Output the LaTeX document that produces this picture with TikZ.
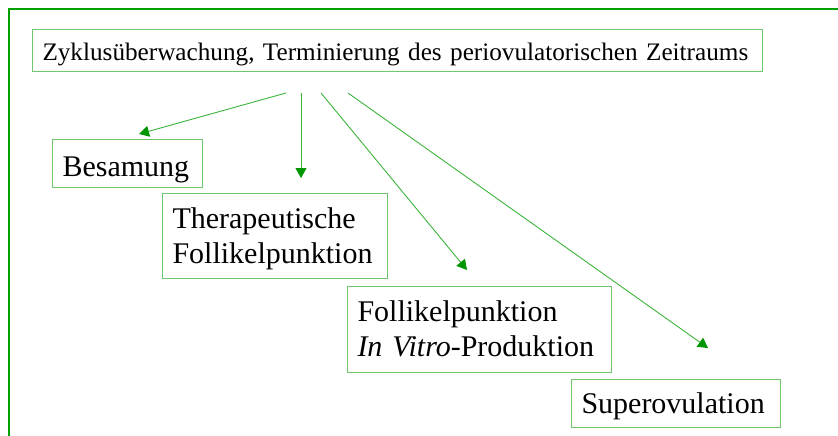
\documentclass[tikz,border=0pt]{standalone}
\usepackage{fontspec}
\setmainfont{Liberation Serif}
\usetikzlibrary{arrows.meta}
\definecolor{framegreen}{RGB}{0,160,0}
\definecolor{boxgreen}{RGB}{110,200,110}
\definecolor{arrowgreen}{RGB}{60,180,60}
\definecolor{headgreen}{RGB}{0,150,0}
\begin{document}
\begin{tikzpicture}[x=1pt,y=-1pt,
  box/.style={draw=boxgreen, line width=1pt, anchor=north west, text=black,
    inner xsep=10pt, inner ysep=0pt, align=left,
    font=\fontsize{30}{35}\selectfont},
  conn/.style={draw=arrowgreen, line width=0.9pt,
    -{Triangle[length=10pt,width=11pt,color=headgreen]}}]
\newcommand\vstrut[2]{\rule[-#2pt]{0pt}{\dimexpr#1pt+#2pt\relax}}
\useasboundingbox (0,0) rectangle (838,436);
\fill[white] (0,0) rectangle (838,436);
\draw[framegreen, line width=2.5pt] (9,440) -- (9,9) -- (842,9);

\node[box, text width=710pt, font=\fontsize{25.2}{30}\selectfont] (top) at (32,29)
  {\mbox{\vstrut{31}{11}Zyklusüberwachung, Terminierung des periovulatorischen Zeitraums}};
\node[box, text width=130pt] (bes) at (52,139)
  {\mbox{\vstrut{37}{11}Besamung}};
\node[box, text width=205pt] (ther) at (162,193)
  {\mbox{\vstrut{35}{0}Therapeutische}\\\mbox{\vstrut{0}{15}Follikelpunktion}};
\node[box, text width=244pt] (foll) at (347,286)
  {\mbox{\vstrut{35}{0}Follikelpunktion}\\\mbox{\vstrut{0}{16}\textit{In Vitro}-Produktion}};
\node[box, text width=189pt] (sup) at (571,379)
  {\mbox{\vstrut{34}{14}Superovulation}};

\coordinate (s1) at (286,93);
\coordinate (s2) at (301,93);
\coordinate (s3) at (321,93);
\coordinate (s4) at (348,93);
\coordinate (e1) at (139,134);
\coordinate (e2) at (301,178);
\coordinate (e3) at (467,270);
\coordinate (e4) at (708,348);

\draw[conn] (s1) -- (e1);
\draw[conn] (s2) -- (e2);
\draw[conn] (s3) -- (e3);
\draw[conn] (s4) -- (e4);
\end{tikzpicture}
\end{document}
